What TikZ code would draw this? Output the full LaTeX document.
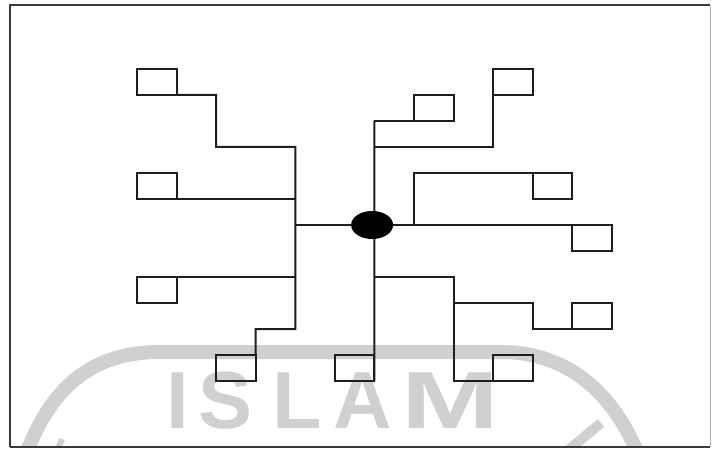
\documentclass[tikz,border=0pt]{standalone}
\usepackage{fontspec}
\usepackage{graphicx}
\usetikzlibrary{shapes.geometric}
\newfontfamily\wmfont{Liberation Sans}
\definecolor{linec}{HTML}{1E1E1E}
\definecolor{framec}{HTML}{3A3A3A}
\definecolor{wmgray}{HTML}{D0D0D0}
\tikzset{
  wire/.style={draw=linec, line width=2pt},
  boxnode/.style={draw=linec, line width=2pt, rectangle, minimum width=39.58pt, minimum height=26pt, inner sep=0pt, outer sep=0pt},
  hubnode/.style={ellipse, fill=black, draw=none, minimum width=42pt, minimum height=28pt, inner sep=0pt},
  framel/.style={draw=framec, line width=2.2pt},
  wm/.style={draw=wmgray},
  wmtext/.style={text=wmgray, inner sep=0pt, font=\wmfont\bfseries\fontsize{81}{81}\selectfont}
}
\begin{document}
\begin{tikzpicture}[x=1pt,y=-1pt]
\useasboundingbox (0,0) rectangle (715,449);
\fill[white] (0,0) rectangle (715,449);
% watermark
\begin{scope}
\clip (10,5) rectangle (710,447);
\draw[wm, line width=14pt] (28,449) .. controls (50,395) and (85,352) .. (160,352) -- (500,352) .. controls (570,352) and (612,395) .. (636,449);
\draw[wm, line width=10pt] (601,423) -- (566,452);
\draw[wm, line width=6pt] (58,449) -- (62,439);
\node[wmtext, anchor=base west] (wmword) at (150,428) {\makebox[55pt]{I}\makebox[40pt]{S}\makebox[104pt]{L}\makebox[27pt]{A}\makebox[148pt]{\scalebox{1.45}[1]{M}}};
\end{scope}
% frame
\draw[framel] (10,447) -- (10,5) -- (710,5);
\draw[framel] (10,447) -- (710,447);
\draw[draw=gray!60, line width=1pt] (710,5) -- (710,447);
% diagram on a grid
\begin{scope}[shift={(137,69)}, x=39.58pt, y=-26pt]
\node[boxnode] (L1) at (0.5,0.5) {};
\node[boxnode] (L2) at (0.5,4.5) {};
\node[boxnode] (L3) at (0.5,8.5) {};
\node[boxnode] (B1) at (2.5,11.5) {};
\node[boxnode] (B2) at (5.5,11.5) {};
\node[boxnode] (R1) at (7.5,1.5) {};
\node[boxnode] (R2) at (9.5,0.5) {};
\node[boxnode] (R3) at (10.5,4.5) {};
\node[boxnode] (R4) at (11.5,6.5) {};
\node[boxnode] (R5) at (11.5,9.5) {};
\node[boxnode] (R6) at (9.5,11.5) {};
\coordinate (LT) at (4,3);
\coordinate (LB) at (4,10);
\coordinate (RT) at (6,2);
\coordinate (hubc) at (5.94,6);
\draw[wire] (L1.south east) -- (2,1) -- (2,3) -- (LT) -- (LB) -- (3,10) -- (B1.north east);
\draw[wire] (L2.south east) -- (L2.south east -| LT);
\draw[wire] (L3.north east) -- (L3.north east -| LT);
\draw[wire] (hubc -| LT) -- (R4.north east);
\draw[wire] (RT) -- (B2.south east);
\draw[wire] (RT) -- (R1.south west);
\draw[wire] (6,3) -- (9,3) -- (R2.south west);
\draw[wire] (7,6) -- (7,4) -- (R3.north west);
\draw[wire] (6,8) -- (8,8) -- (8,12) -- (R6.south west);
\draw[wire] (8,9) -- (10,9) -- (10,10) -- (R5.south west);
\node[hubnode] (hub) at (hubc) {};
\end{scope}
\end{tikzpicture}
\end{document}
